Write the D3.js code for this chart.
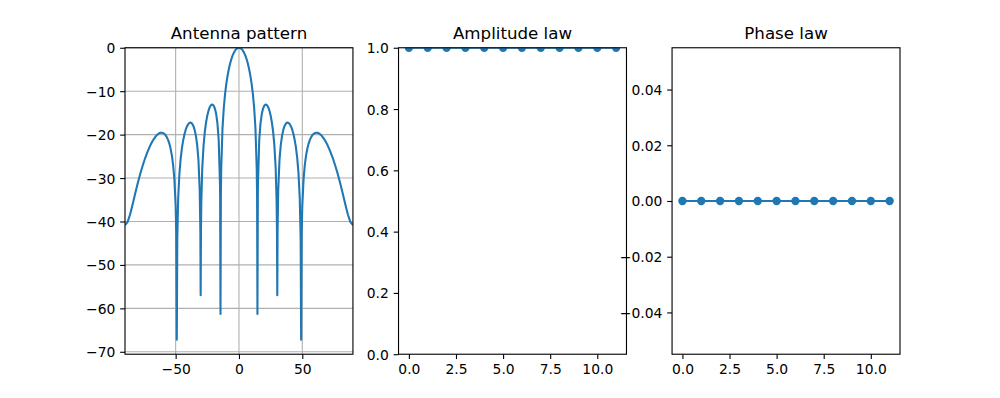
<!DOCTYPE html>
<html>
<head>
<meta charset="utf-8">
<script src="https://cdn.jsdelivr.net/npm/d3@7"></script>
<style>
  body { margin: 0; background: #fff; }
  svg text { font-family: 'DejaVu Sans', sans-serif; fill: #000; }
</style>
</head>
<body>
<div id="chart"></div>
<script>
// antenna pattern: angle (deg) and level (dB)
const patternAngle = [
  -90, -88, -86, -84, -82, -80, -78, -76, -74, -72, -70, -68, -67, -66, -65, -64, -63, -62, -61, -60,
  -59, -58, -57, -56, -55, -54, -53, -52, -51, -50, -49.5, -49.09, -48.7, -48, -47, -46, -45, -44, -43, -42,
  -41, -40, -39, -38, -37, -36, -35, -34, -33, -32, -31, -30.5, -30.25, -30, -29.7, -29, -28, -27, -26, -25,
  -24, -23, -22, -21, -20, -19, -18, -17, -16, -15, -14.9, -14.59, -14.3, -14, -13, -12, -11, -10, -9, -8,
  -7, -6, -5, -4, -3, -2, -1, 0,
  1, 2, 3, 4, 5, 6, 7, 8, 9, 10, 11, 12, 13, 14, 14.3, 14.59, 14.9, 15, 16, 17,
  18, 19, 20, 21, 22, 23, 24, 25, 26, 27, 28, 29, 29.7, 30, 30.25, 30.5, 31, 32, 33, 34,
  35, 36, 37, 38, 39, 40, 41, 42, 43, 44, 45, 46, 47, 48, 48.7, 49.09, 49.5, 50, 51, 52,
  53, 54, 55, 56, 57, 58, 59, 60, 61, 62, 63, 64, 65, 66, 67, 68, 70, 72, 74, 76,
  78, 80, 82, 84, 86, 88, 90
];
const patternDb = [
  -40.81, -40.14, -38.38, -36.08, -33.63, -31.27, -29.08, -27.10, -25.33, -23.79, -22.47, -21.36, -20.91, -20.50, -20.16, -19.89, -19.70, -19.58, -19.56, -19.63,
  -19.81, -20.12, -20.57, -21.21, -22.07, -23.22, -24.78, -26.98, -30.31, -36.45, -43.20, -67.2, -43.73, -34.62, -28.85, -25.41, -23.01, -21.22, -19.85, -18.81,
  -18.05, -17.54, -17.27, -17.24, -17.47, -18.00, -18.90, -20.29, -22.41, -25.85, -32.82, -42.21, -57.0, -42.03, -35.12, -27.86, -22.64, -19.44, -17.21, -15.58,
  -14.42, -13.63, -13.18, -13.06, -13.31, -14.00, -15.26, -17.41, -21.30, -31.35, -33.73, -61.3, -33.97, -27.63, -18.52, -13.87, -10.69, -8.30, -6.41, -4.88,
  -3.63, -2.60, -1.77, -1.12, -0.62, -0.27, -0.07, 0,
  -0.07, -0.27, -0.62, -1.12, -1.77, -2.60, -3.63, -4.88, -6.41, -8.30, -10.69, -13.87, -18.52, -27.63, -33.97, -61.3, -33.73, -31.35, -21.30, -17.41,
  -15.26, -14.00, -13.31, -13.06, -13.18, -13.63, -14.42, -15.58, -17.21, -19.44, -22.64, -27.86, -35.12, -42.03, -57.0, -42.21, -32.82, -25.85, -22.41, -20.29,
  -18.90, -18.00, -17.47, -17.24, -17.27, -17.54, -18.05, -18.81, -19.85, -21.22, -23.01, -25.41, -28.85, -34.62, -43.73, -67.2, -43.20, -36.45, -30.31, -26.98,
  -24.78, -23.22, -22.07, -21.21, -20.57, -20.12, -19.81, -19.63, -19.56, -19.58, -19.70, -19.89, -20.16, -20.50, -20.91, -21.36, -22.47, -23.79, -25.33, -27.10,
  -29.08, -31.27, -33.63, -36.08, -38.38, -40.14, -40.81
];

// array excitation, one value per element
const elementIndex = [0, 1, 2, 3, 4, 5, 6, 7, 8, 9, 10, 11];
const amplitudeLaw = [1, 1, 1, 1, 1, 1, 1, 1, 1, 1, 1, 1];
const phaseLaw = [0, 0, 0, 0, 0, 0, 0, 0, 0, 0, 0, 0];

const titles = ['Antenna pattern', 'Amplitude law', 'Phase law'];
const patternXTicks = [-50, 0, 50];
const patternYTicks = [-70, -60, -50, -40, -30, -20, -10, 0];
const lawXTicks = [0, 2.5, 5, 7.5, 10];
const amplitudeYTicks = [0, 0.2, 0.4, 0.6, 0.8, 1.0];
const phaseYTicks = [-0.04, -0.02, 0, 0.02, 0.04];

const W = 1000, H = 398;
const blue = '#1f77b4';
const pt = 100 / 72;   // matplotlib points -> px at 100 dpi

// subplot grid 1x3, matplotlib default spacing
const figLeft = 0.125 * W, figRight = 0.9 * W;
const axTop = H * (1 - 0.88), axBottom = H * (1 - 0.11);
const axW = (figRight - figLeft) / (3 + 2 * 0.2);
const gap = axW * 0.2;
const axH = axBottom - axTop;

const svg = d3.select('#chart').append('svg')
  .attr('width', W)
  .attr('height', H);

svg.append('rect').attr('width', W).attr('height', H).attr('fill', '#fff');

function makePanel(i, xDomain, yDomain, xTicks, yTicks, xFmt, yFmt, grid) {
  const x0 = figLeft + i * (axW + gap);
  const g = svg.append('g').attr('transform', `translate(${x0},${axTop})`);

  const x = d3.scaleLinear().domain(xDomain).range([0, axW]);
  const y = d3.scaleLinear().domain(yDomain).range([axH, 0]);

  g.append('clipPath').attr('id', 'clip' + i)
    .append('rect').attr('width', axW).attr('height', axH);

  if (grid) {
    g.append('g').selectAll('line').data(xTicks).join('line')
      .attr('x1', d => x(d)).attr('x2', d => x(d))
      .attr('y1', 0).attr('y2', axH)
      .attr('stroke', '#b0b0b0').attr('stroke-width', 0.8 * pt);
    g.append('g').selectAll('line').data(yTicks).join('line')
      .attr('x1', 0).attr('x2', axW)
      .attr('y1', d => y(d)).attr('y2', d => y(d))
      .attr('stroke', '#b0b0b0').attr('stroke-width', 0.8 * pt);
  }

  const xaxis = d3.axisBottom(x).tickValues(xTicks).tickFormat(xFmt)
    .tickSizeInner(3.5 * pt).tickSizeOuter(0).tickPadding(3.5 * pt);
  const yaxis = d3.axisLeft(y).tickValues(yTicks).tickFormat(yFmt)
    .tickSizeInner(3.5 * pt).tickSizeOuter(0).tickPadding(3.5 * pt);

  const gx = g.append('g').attr('transform', `translate(0,${axH})`).call(xaxis);
  const gy = g.append('g').call(yaxis);

  [gx, gy].forEach(a => {
    a.select('.domain').remove();
    a.selectAll('line').attr('stroke', '#000').attr('stroke-width', 0.8 * pt);
    a.selectAll('text').attr('font-size', 10 * pt).attr('font-family', 'DejaVu Sans').attr('fill', '#000');
  });
  gx.selectAll('text').attr('dy', '0.76em');
  gy.selectAll('text').attr('dy', '0.36em');

  g.append('text')
    .attr('x', axW / 2).attr('y', -6 * pt)
    .attr('text-anchor', 'middle')
    .attr('font-size', 12 * pt)
    .text(titles[i]);

  return { g, x, y, clip: `url(#clip${i})` };
}

function spines(p) {
  p.g.append('rect')
    .attr('width', axW).attr('height', axH)
    .attr('fill', 'none').attr('stroke', '#000').attr('stroke-width', 0.8 * pt);
}

// panel 1: pattern
const p1 = makePanel(0, [-90, 90], [-70.56, 0], patternXTicks, patternYTicks,
  d3.format('.0f'), d3.format('.0f'), true);

const patternLine = d3.line()
  .x((d, i) => p1.x(patternAngle[i]))
  .y(d => p1.y(d));

p1.g.append('path')
  .datum(patternDb)
  .attr('clip-path', p1.clip)
  .attr('fill', 'none')
  .attr('stroke', blue)
  .attr('stroke-width', 1.5 * pt)
  .attr('stroke-linejoin', 'round')
  .attr('d', patternLine);
spines(p1);

// panels 2 and 3: amplitude and phase laws
function lawPlot(p, values) {
  const line = d3.line()
    .x((d, i) => p.x(elementIndex[i]))
    .y(d => p.y(d));
  const layer = p.g.append('g').attr('clip-path', p.clip);
  layer.append('path')
    .datum(values)
    .attr('fill', 'none')
    .attr('stroke', blue)
    .attr('stroke-width', 1.5 * pt)
    .attr('d', line);
  layer.selectAll('circle').data(values).join('circle')
    .attr('cx', (d, i) => p.x(elementIndex[i]))
    .attr('cy', d => p.y(d))
    .attr('r', 3 * pt)
    .attr('fill', blue);
  spines(p);
}

const p2 = makePanel(1, [-0.55, 11.55], [0, 1], lawXTicks, amplitudeYTicks,
  d3.format('.1f'), d3.format('.1f'), false);
lawPlot(p2, amplitudeLaw);

const p3 = makePanel(2, [-0.55, 11.55], [-0.055, 0.055], lawXTicks, phaseYTicks,
  d3.format('.1f'), d3.format('.2f'), false);
lawPlot(p3, phaseLaw);
</script>
</body>
</html>
